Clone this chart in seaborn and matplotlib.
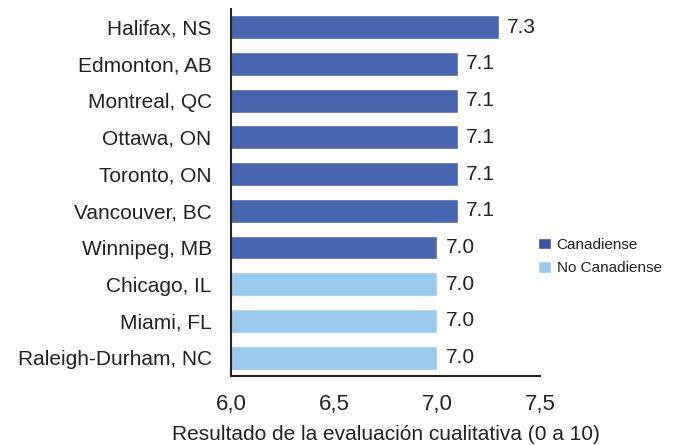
import matplotlib
matplotlib.use("Agg")
import matplotlib.pyplot as plt
import seaborn as sns
import pandas as pd
import numpy as np
from matplotlib.patches import Patch

ciudades = ["Halifax, NS", "Edmonton, AB", "Montreal, QC", "Ottawa, ON", "Toronto, ON",
            "Vancouver, BC", "Winnipeg, MB", "Chicago, IL", "Miami, FL", "Raleigh-Durham, NC"]
valores = [7.3, 7.1, 7.1, 7.1, 7.1, 7.1, 7.0, 7.0, 7.0, 7.0]
grupos = ["Canadiense"] * 7 + ["No Canadiense"] * 3
ticks_x = [6.0, 6.5, 7.0, 7.5]

colores = {"Canadiense": "#4a65b0", "No Canadiense": "#9acbee"}

df = pd.DataFrame({"ciudad": ciudades, "valor": valores, "grupo": grupos})

sns.set_style("white")
plt.rcParams["font.family"] = ["Liberation Sans", "DejaVu Sans"]

fig = plt.figure(figsize=(6.76, 4.45), dpi=100)
ax = fig.add_axes([0.342, 0.155, 0.457, 0.825])

sns.barplot(data=df, y="ciudad", x="valor", hue="grupo", palette=colores,
            dodge=False, width=0.65, orient="h", legend=False, ax=ax, saturation=1)

ax.set_xlim(6.0, 7.5)
ax.set_ylim(9.5, -0.5)
ax.set_xticks(ticks_x)
ax.set_xticklabels([f"{t:.1f}".replace(".", ",") for t in ticks_x], fontsize=16, color="#222222")
ax.set_yticks(range(len(ciudades)))
ax.set_yticklabels(ciudades, fontsize=15, color="#222222")
ax.set_yticks(np.arange(-0.5, len(ciudades), 1.0), minor=True)
ax.tick_params(axis="y", which="major", length=0, pad=14)
ax.tick_params(axis="y", which="minor", length=9, width=1.2, color="#777777", direction="out")
ax.tick_params(axis="x", which="major", length=9, width=1.5, color="#222222", direction="out", pad=4)

for s in ["top", "right"]:
    ax.spines[s].set_visible(False)
for s in ["left", "bottom"]:
    ax.spines[s].set_color("#222222")
    ax.spines[s].set_linewidth(1.5)

ax.set_ylabel("")
ax.set_xlabel("Resultado de la evaluación cualitativa (0 a 10)", fontsize=15,
              labelpad=7, color="#222222")

for i, v in enumerate(valores):
    ax.text(v + 0.04, i, f"{v:.1f}", va="center", ha="left", fontsize=15, color="#222222")

handles = [Patch(facecolor="#3a55a2", label="Canadiense"),
           Patch(facecolor=colores["No Canadiense"], label="No Canadiense")]
fig.legend(handles=handles, loc="upper left", bbox_to_anchor=(0.776, 0.497), frameon=False,
           fontsize=11, handlelength=0.8, handleheight=0.8, handletextpad=0.4,
           labelspacing=0.6, labelcolor="#222222")

fig.savefig("out.png", dpi=100)
